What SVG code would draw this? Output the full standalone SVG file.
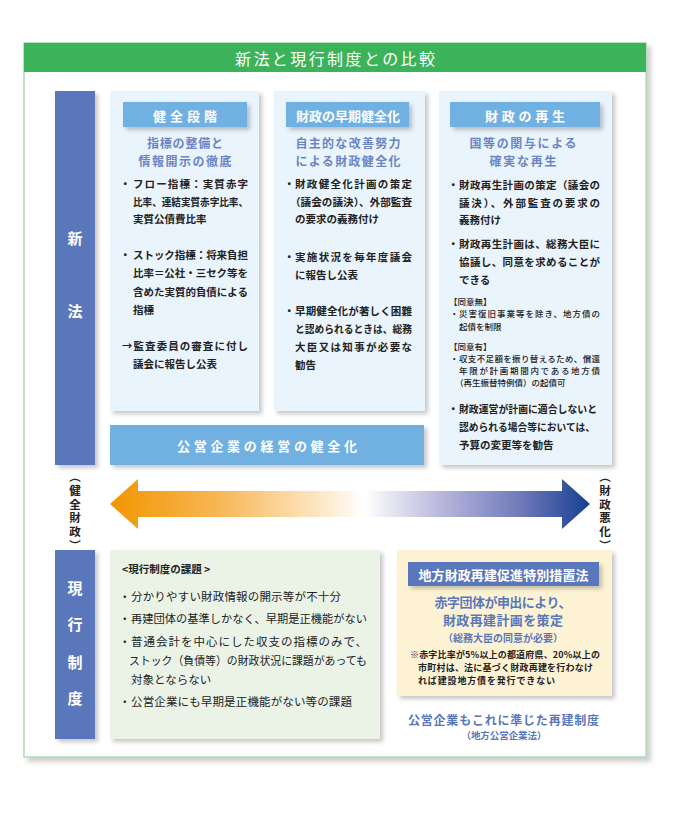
<svg xmlns="http://www.w3.org/2000/svg" width="680" height="815" viewBox="0 0 680 815">
<defs>
<filter id="sh" x="-10%" y="-10%" width="130%" height="140%">
<feDropShadow dx="3" dy="3" stdDeviation="2" flood-color="#000" flood-opacity="0.22"/>
</filter>
<filter id="shf" x="-5%" y="-5%" width="115%" height="115%">
<feDropShadow dx="4" dy="4" stdDeviation="2.5" flood-color="#000" flood-opacity="0.2"/>
</filter>
<linearGradient id="ag" x1="110" y1="0" x2="590" y2="0" gradientUnits="userSpaceOnUse">
<stop offset="0" stop-color="#f29600"/>
<stop offset="0.22" stop-color="#f7b552"/>
<stop offset="0.42" stop-color="#fde3bb"/>
<stop offset="0.53" stop-color="#ffffff"/>
<stop offset="0.68" stop-color="#bcbbdd"/>
<stop offset="0.86" stop-color="#6c78b8"/>
<stop offset="1" stop-color="#163f90"/>
</linearGradient>
</defs>
<style>
text{font-family:"Noto Sans CJK JP","Noto Sans",sans-serif;dominant-baseline:central}
.b{font-size:10.5px;font-weight:700;fill:#222}
.hd{font-size:13px;font-weight:700;fill:#fff;text-anchor:middle}
.sub{font-size:12px;font-weight:700;fill:#6a85c4;text-anchor:middle}
.sm{font-size:8.5px;font-weight:500;fill:#222}
.r{font-size:11.5px;font-weight:400;fill:#222}
.vl{font-size:15px;font-weight:700;fill:#fff;text-anchor:middle}
.lb{font-size:11.5px;font-weight:700;fill:#222;writing-mode:vertical-rl;letter-spacing:2.2px}
.pn{fill:#eaf4fc}
.hb{fill:#6fb1e1}
.nb{fill:#5a77bb}
.yb{font-weight:700;fill:#5a77bb;text-anchor:middle}
.nt{font-size:9px;font-weight:700;fill:#222}
</style>

<g id="frame">
<rect x="24" y="43" width="622" height="714" fill="#fff" stroke="#a6dbb2" stroke-width="1.5" filter="url(#shf)"/>
<rect x="24" y="43" width="622" height="29" fill="#3cb35b"/>
<text x="335" y="57.5" text-anchor="middle" font-size="16" fill="#fff" textLength="200" lengthAdjust="spacing">新法と現行制度との比較</text>
</g>

<g id="label-shinpo">
<rect x="55" y="91" width="40" height="374" class="nb" filter="url(#sh)"/>
<text x="75" y="237" class="vl">新</text>
<text x="75" y="310" class="vl">法</text>
</g>

<g id="col1">
<rect x="110" y="91" width="149" height="320" class="pn" filter="url(#sh)"/>
<rect x="123" y="102" width="124" height="25" class="hb" filter="url(#sh)"/>
<text x="185" y="115" class="hd" textLength="64" lengthAdjust="spacing">健全段階</text>
<text x="185" y="142" class="sub" textLength="76" lengthAdjust="spacing">指標の整備と</text>
<text x="185" y="160" class="sub" textLength="93" lengthAdjust="spacing">情報開示の徹底</text>
<text x="120" y="183" class="b">・</text>
<text x="133" y="183" class="b" textLength="115" lengthAdjust="spacing">フロー指標：実質赤字</text>
<text x="133" y="201" class="b" textLength="115" lengthAdjust="spacingAndGlyphs">比率、連結実質赤字比率、</text>
<text x="133" y="218" class="b">実質公債費比率</text>
<text x="120" y="254" class="b">・</text>
<text x="133" y="254" class="b" textLength="115" lengthAdjust="spacing">ストック指標：将来負担</text>
<text x="133" y="272" class="b" textLength="115" lengthAdjust="spacing">比率＝公社・三セク等を</text>
<text x="133" y="291" class="b" textLength="115" lengthAdjust="spacing">含めた実質的負債による</text>
<text x="133" y="309" class="b">指標</text>
<text x="122" y="345" class="b" textLength="126" lengthAdjust="spacing">→監査委員の審査に付し</text>
<text x="133" y="363" class="b">議会に報告し公表</text>
</g>

<g id="col2">
<rect x="274" y="91" width="151" height="320" class="pn" filter="url(#sh)"/>
<rect x="286" y="102" width="123" height="25" class="hb" filter="url(#sh)"/>
<text x="348" y="115" class="hd" textLength="104" lengthAdjust="spacing">財政の早期健全化</text>
<text x="348" y="142" class="sub" textLength="105" lengthAdjust="spacing">自主的な改善努力</text>
<text x="348" y="160" class="sub" textLength="105" lengthAdjust="spacing">による財政健全化</text>
<text x="284" y="183" class="b">・</text>
<text x="295" y="183" class="b" textLength="117" lengthAdjust="spacing">財政健全化計画の策定</text>
<text x="290" y="201" class="b" textLength="122" lengthAdjust="spacingAndGlyphs">（議会の議決）、外部監査</text>
<text x="295" y="218" class="b">の要求の義務付け</text>
<text x="284" y="256" class="b">・</text>
<text x="295" y="256" class="b" textLength="117" lengthAdjust="spacing">実施状況を毎年度議会</text>
<text x="295" y="274" class="b">に報告し公表</text>
<text x="284" y="310" class="b">・</text>
<text x="295" y="310" class="b" textLength="117" lengthAdjust="spacing">早期健全化が著しく困難</text>
<text x="295" y="328" class="b" textLength="117" lengthAdjust="spacingAndGlyphs">と認められるときは、総務</text>
<text x="295" y="346" class="b" textLength="117" lengthAdjust="spacing">大臣又は知事が必要な</text>
<text x="295" y="364" class="b">勧告</text>
</g>

<g id="col3">
<rect x="439" y="91" width="173" height="374" class="pn" filter="url(#sh)"/>
<rect x="450" y="102" width="150" height="25" class="hb" filter="url(#sh)"/>
<text x="525" y="115" class="hd" textLength="80" lengthAdjust="spacing">財政の再生</text>
<text x="523" y="142" class="sub" textLength="107" lengthAdjust="spacing">国等の関与による</text>
<text x="523" y="160" class="sub" textLength="67" lengthAdjust="spacing">確実な再生</text>
<text x="448" y="184" class="b">・</text>
<text x="459" y="184" class="b" textLength="141" lengthAdjust="spacing">財政再生計画の策定（議会の</text>
<text x="459" y="202" class="b" textLength="141" lengthAdjust="spacing">議決）、外部監査の要求の</text>
<text x="459" y="219" class="b">義務付け</text>
<text x="448" y="243" class="b">・</text>
<text x="459" y="243" class="b" textLength="141" lengthAdjust="spacing">財政再生計画は、総務大臣に</text>
<text x="459" y="261" class="b" textLength="141" lengthAdjust="spacing">協議し、同意を求めることが</text>
<text x="459" y="279" class="b">できる</text>
<text x="449" y="301" class="sm">【同意無】</text>
<text x="450" y="313" class="sm">・</text>
<text x="459" y="313" class="sm" textLength="141" lengthAdjust="spacing">災害復旧事業等を除き、地方債の</text>
<text x="459" y="326" class="sm">起債を制限</text>
<text x="449" y="346" class="sm">【同意有】</text>
<text x="450" y="358" class="sm">・</text>
<text x="459" y="358" class="sm" textLength="141" lengthAdjust="spacing">収支不足額を振り替えるため、償還</text>
<text x="459" y="370" class="sm" textLength="141" lengthAdjust="spacing">年限が計画期間内である地方債</text>
<text x="455" y="382" class="sm">（再生振替特例債）の起債可</text>
<text x="448" y="408" class="b">・</text>
<text x="459" y="408" class="b" textLength="138" lengthAdjust="spacingAndGlyphs">財政運営が計画に適合しないと</text>
<text x="459" y="426" class="b" textLength="136" lengthAdjust="spacingAndGlyphs">認められる場合等においては、</text>
<text x="459" y="444" class="b">予算の変更等を勧告</text>
</g>

<g id="kouei">
<rect x="110" y="425" width="314" height="40" class="hb" filter="url(#sh)"/>
<text x="267" y="445" class="hd" font-size="12.5" textLength="180" lengthAdjust="spacing">公営企業の経営の健全化</text>
</g>

<g id="connectors">
<polygon points="110,504 138,479 138,491 562,491 562,479 590,504 562,529 562,517 138,517 138,529" fill="url(#ag)"/>
</g>

<g id="label-kenzen">
<text x="75" y="471" class="lb">（健全財政）</text>
</g>
<g id="label-akka">
<text x="605" y="471" class="lb">（財政悪化）</text>
</g>

<g id="label-genko">
<rect x="55" y="550" width="40" height="189" class="nb" filter="url(#sh)"/>
<text x="75" y="587" class="vl">現</text>
<text x="75" y="623" class="vl">行</text>
<text x="75" y="661" class="vl">制</text>
<text x="75" y="697" class="vl">度</text>
</g>

<g id="issues">
<rect x="110" y="550" width="270" height="189" fill="#ebf3e7" filter="url(#sh)"/>
<text x="122" y="568" class="b" font-size="10.5">&lt;現行制度の課題 &gt;</text>
<text x="119" y="596" class="r">・</text>
<text x="131" y="596" class="r" textLength="210" lengthAdjust="spacing">分かりやすい財政情報の開示等が不十分</text>
<text x="119" y="618" class="r">・</text>
<text x="131" y="618" class="r" textLength="236" lengthAdjust="spacingAndGlyphs">再建団体の基準しかなく、早期是正機能がない</text>
<text x="119" y="641" class="r">・</text>
<text x="131" y="641" class="r" textLength="236" lengthAdjust="spacing">普通会計を中心にした収支の指標のみで、</text>
<text x="129" y="660" class="r" textLength="238" lengthAdjust="spacingAndGlyphs">ストック（負債等）の財政状況に課題があっても</text>
<text x="131" y="679" class="r">対象とならない</text>
<text x="119" y="701" class="r">・</text>
<text x="131" y="701" class="r" textLength="221" lengthAdjust="spacing">公営企業にも早期是正機能がない等の課題</text>
</g>

<g id="saiken-law">
<rect x="397" y="550" width="215" height="146" fill="#fdf3d4" filter="url(#sh)"/>
<rect x="408" y="562" width="191" height="24" class="nb" filter="url(#sh)"/>
<text x="503.5" y="574" class="hd" textLength="170" lengthAdjust="spacing">地方財政再建促進特別措置法</text>
<text x="503" y="601" class="yb" font-size="13" textLength="137" lengthAdjust="spacing">赤字団体が申出により、</text>
<text x="503" y="619" class="yb" font-size="13" textLength="120" lengthAdjust="spacing">財政再建計画を策定</text>
<text x="503" y="637" class="yb" font-size="10" fill="#6d87c3" textLength="120" lengthAdjust="spacing">（総務大臣の同意が必要）</text>
<text x="410" y="654" class="nt" textLength="190" lengthAdjust="spacing">※赤字比率が5%以上の都道府県、20%以上の</text>
<text x="418" y="667" class="nt" textLength="175" lengthAdjust="spacing">市町村は、法に基づく財政再建を行わなけ</text>
<text x="418" y="680" class="nt" textLength="137" lengthAdjust="spacing">れば建設地方債を発行できない</text>
</g>

<g id="kouei-note">
<text x="503.5" y="719" class="yb" font-size="12" textLength="191" lengthAdjust="spacing">公営企業もこれに準じた再建制度</text>
<text x="504" y="735" class="yb" font-size="9.5" textLength="85" lengthAdjust="spacing">（地方公営企業法）</text>
</g>
</svg>
